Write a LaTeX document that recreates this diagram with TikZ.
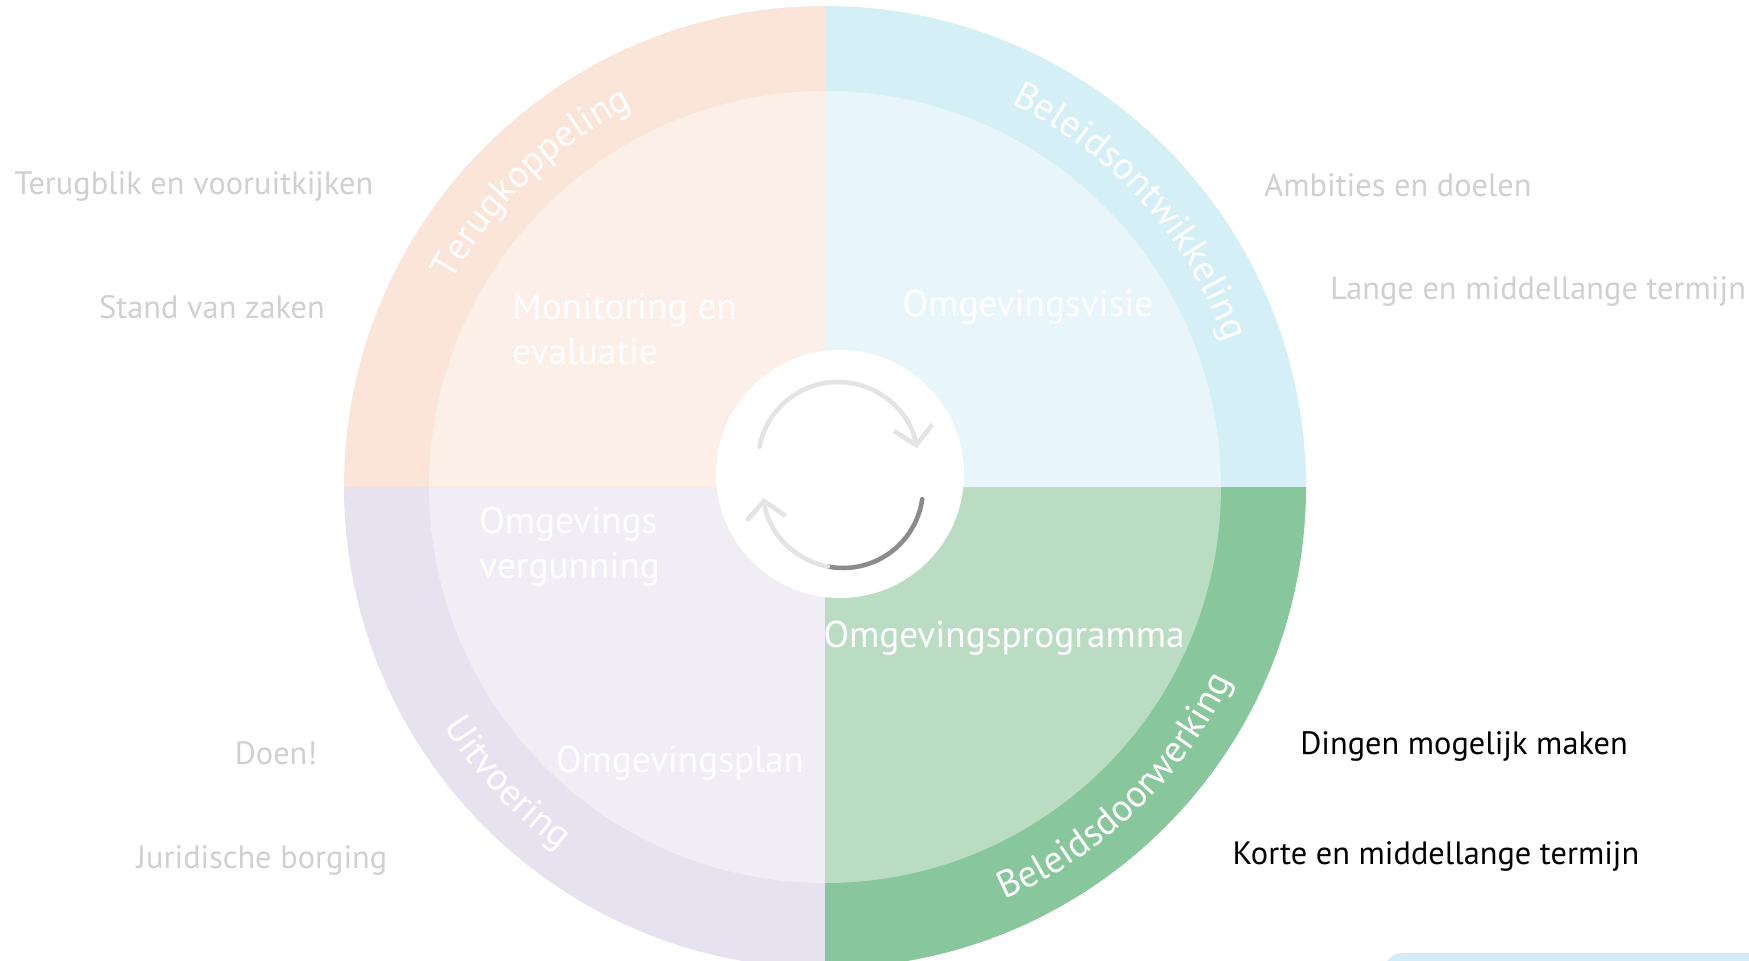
\documentclass[tikz,border=0pt]{standalone}
\usepackage{fontspec}
\setmainfont{PT Sans}
\usetikzlibrary{positioning, decorations.text, arrows.meta}
\definecolor{PeachOut}{HTML}{FBE4D8}
\definecolor{PeachIn}{HTML}{FCEFE8}
\definecolor{BlueOut}{HTML}{D5EFF6}
\definecolor{BlueIn}{HTML}{E8F5FA}
\definecolor{LilacOut}{HTML}{E7E2EF}
\definecolor{LilacIn}{HTML}{F0EDF5}
\definecolor{GreenOut}{HTML}{87C79B}
\definecolor{GreenIn}{HTML}{B9DCC3}
\definecolor{SideGray}{HTML}{D0D0D0}
\definecolor{LightArrow}{HTML}{E4E4E4}
\definecolor{DarkArrow}{HTML}{8C8C8C}
\definecolor{TabBlue}{HTML}{D4EBF8}
\newcommand{\ringfont}{\fontsize{10.8}{12}\selectfont}
\tikzstyle{sidetext} = [text=SideGray, font=\fontsize{9.2}{10}\selectfont]
\tikzstyle{keytext} = [text=black, font=\fontsize{9.2}{10}\selectfont]
\tikzstyle{innertext} = [text=white, font=\fontsize{10.6}{12.8}\selectfont, align=left]
\tikzstyle{turnarrow} = [line width=1.3pt, line cap=round]
\tikzstyle{ringlabel} = [decorate, decoration={text along path, text align=center, text color=white}]

\begin{document}
\begin{tikzpicture}[x=0.01cm, y=0.01cm, node distance=1.1cm]

\useasboundingbox (0,0) rectangle (1749,960);
\clip (0,0) rectangle (1749,960);

\coordinate (c) at (825,473);
\coordinate (hub) at (840,486);
\coordinate (tophub) at (838,498);
\coordinate (bothub) at (843,472);

% outer ring
\fill[PeachOut] (c) -- ++(90:481) arc[start angle=90, end angle=180, radius=481] -- cycle;
\fill[BlueOut] (c) -- ++(0:481) arc[start angle=0, end angle=90, radius=481] -- cycle;
\fill[LilacOut] (c) -- ++(180:481) arc[start angle=180, end angle=270, radius=481] -- cycle;
\fill[GreenOut] (c) -- ++(270:481) arc[start angle=270, end angle=360, radius=481] -- cycle;

% inner part
\fill[PeachIn] (c) -- ++(90:396) arc[start angle=90, end angle=180, radius=396] -- cycle;
\fill[BlueIn] (c) -- ++(0:396) arc[start angle=0, end angle=90, radius=396] -- cycle;
\fill[LilacIn] (c) -- ++(180:396) arc[start angle=180, end angle=270, radius=396] -- cycle;
\fill[GreenIn] (c) -- ++(270:396) arc[start angle=270, end angle=360, radius=396] -- cycle;

\fill[white] (hub) circle[radius=124];

% cycle arrows
\draw[turnarrow, LightArrow, -{Straight Barb[length=5pt, width=11pt]}] ([shift={(169:80)}]tophub) arc[start angle=169, end angle=10, radius=80];
\draw[turnarrow, DarkArrow] ([shift={(-8:80)}]bothub) arc[start angle=-8, end angle=-101, radius=80];
\draw[turnarrow, LightArrow, -{Straight Barb[length=5pt, width=11pt]}] ([shift={(-101:80)}]bothub) arc[start angle=-101, end angle=-173, radius=80];

% ring labels
\path[ringlabel, decoration={text={|\ringfont|Terugkoppeling}}] ([shift={(170:426)}]c) arc[start angle=170, end angle=98, radius=426];
\path[ringlabel, decoration={text={|\ringfont|Beleidsontwikkeling}}] ([shift={(80:426)}]c) arc[start angle=80, end angle=4, radius=426];
\path[ringlabel, decoration={text={|\ringfont|Uitvoering}}] ([shift={(-170:450)}]c) arc[start angle=-170, end angle=-104, radius=450];
\path[ringlabel, decoration={text={|\ringfont|Beleidsdoorwerking}}] ([shift={(-85:450)}]c) arc[start angle=-85, end angle=-7, radius=450];

% inner labels
\node (monitoring) [innertext, anchor=west] at (500,631) {Monitoring en\\evaluatie};
\node (visie) [innertext] at (1028,653) {Omgevingsvisie};
\node (vergunning) [innertext, anchor=west] at (467,413) {Omgevings\\vergunning};
\node (plan) [innertext] at (680,197) {Omgevingsplan};
\node (programma) [innertext] at (1004,322) {Omgevingsprogramma};

% side texts
\node (terugblik) [sidetext] at (194,774) {Terugblik en vooruitkijken};
\node (stand) [sidetext, below of=terugblik, xshift=0.18cm, yshift=-0.11cm] {Stand van zaken};
\node (ambities) [sidetext] at (1398,775) {Ambities en doelen};
\node (lange) [sidetext, below of=ambities, xshift=1.4cm, yshift=0.04cm] {Lange en middellange termijn};
\node (doen) [sidetext] at (276,207) {Doen!};
\node (borging) [sidetext, below of=doen, xshift=-0.14cm, yshift=0.03cm] {Juridische borging};
\node (dingen) [keytext] at (1464,214) {Dingen mogelijk maken};
\node (korte) [keytext, below of=dingen, xshift=-0.28cm] {Korte en middellange termijn};

\fill[TabBlue, rounded corners=0.2cm] (1383,-30) rectangle (1800,7);

\end{tikzpicture}
\end{document}
